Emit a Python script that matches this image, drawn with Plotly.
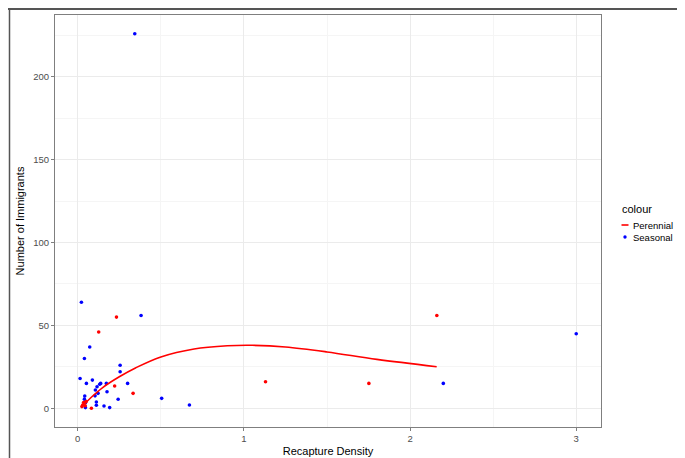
import plotly.graph_objects as go

# Seasonal points (blue)
seasonal_x = [0.343, 0.022, 0.381, 0.072, 0.040, 0.255, 0.255, 0.014, 0.052, 0.088,
              0.132, 0.172, 0.116, 0.300, 0.176, 0.122, 0.106, 0.042, 0.046, 0.243,
              0.505, 0.672, 0.112, 0.112, 0.158, 0.192, 0.046, 0.138, 2.200, 3.000,
              0.104, 0.040]
seasonal_y = [226, 64, 56, 37, 30, 26, 22, 18, 15, 17,
              14.5, 15, 13, 15, 10, 9, 11, 7.4, 3.4, 5.4,
              6, 2, 3.8, 1.8, 1.4, 0.4, 0.4, 15, 15, 45,
              7.5, 5.5]

# Perennial points (red)
perennial_x = [0.233, 0.126, 0.222, 0.333, 0.082, 0.030, 0.035, 0.025, 0.045, 0.050,
               1.130, 1.752, 2.161]
perennial_y = [55, 46, 13.4, 9, 0, 2, 3.5, 1, 1.5, 4,
               16, 15, 56]

# Smoothed trend for Perennial
smooth_x = [0.03, 0.08, 0.15, 0.25, 0.35, 0.50, 0.70, 0.90, 1.05, 1.25, 1.50, 1.80, 2.16]
smooth_y = [1.5, 6.5, 12.5, 19.0, 24.5, 31.0, 35.8, 37.7, 38.0, 37.0, 34.0, 29.5, 25.1]

x_ticks = [0, 1, 2, 3]
y_ticks = [0, 50, 100, 150, 200]
legend_title = "colour"
legend_labels = ["Perennial", "Seasonal"]

RED = "#FF0000"
BLUE = "#0000FF"
FONT = "Liberation Sans, Arial, sans-serif"

fig = go.Figure()
fig.add_trace(go.Scatter(x=seasonal_x, y=seasonal_y, mode="markers",
                         marker=dict(color=BLUE, size=3.6), name="Seasonal"))
fig.add_trace(go.Scatter(x=perennial_x, y=perennial_y, mode="markers",
                         marker=dict(color=RED, size=3.6), name="Perennial"))
fig.add_trace(go.Scatter(x=smooth_x, y=smooth_y, mode="lines", line_shape="spline",
                         line=dict(color=RED, width=1.6), name="Perennial"))

# page has an 8px body margin, so figure is offset by 8px
OFF = 8
W, H = 685, 450
# panel edges in window pixels
PL, PR, PT, PB = 55, 601, 15, 427
L, R, T, B = PL - OFF, W - (PR - OFF), PT - OFF, H - (PB - OFF)
pw, ph = W - L - R, H - T - B

def px(xw):
    return (xw - OFF - L) / pw

def py(yw):
    return (H - B - (yw - OFF)) / ph

frame = "#555555"
shapes = [
    dict(type="line", xref="paper", yref="paper", x0=px(8), x1=px(700), y0=py(9), y1=py(9),
         line=dict(color=frame, width=2)),
    dict(type="line", xref="paper", yref="paper", x0=px(9.5), x1=px(9.5), y0=py(9), y1=py(470),
         line=dict(color=frame, width=1.5)),
    # legend keys
    dict(type="line", xref="paper", yref="paper", x0=px(621.5), x1=px(628.5),
         y0=py(225), y1=py(225), line=dict(color=RED, width=1.6)),
    dict(type="circle", xref="paper", yref="paper", x0=px(623.3), x1=px(626.7),
         y0=py(235.3), y1=py(238.7), fillcolor=BLUE, line=dict(width=0)),
]

annotations = [
    dict(text=legend_title, xref="paper", yref="paper", x=px(620), y=py(209),
         xanchor="left", yanchor="middle", showarrow=False,
         font=dict(family=FONT, size=11, color="black")),
    dict(text=legend_labels[0], xref="paper", yref="paper", x=px(631), y=py(225),
         xanchor="left", yanchor="middle", showarrow=False,
         font=dict(family=FONT, size=9.5, color="black")),
    dict(text=legend_labels[1], xref="paper", yref="paper", x=px(631), y=py(237),
         xanchor="left", yanchor="middle", showarrow=False,
         font=dict(family=FONT, size=9.5, color="black")),
]

axis_common = dict(
    showgrid=True, gridcolor="#EBEBEB", gridwidth=1,
    zeroline=False, showline=True, mirror=True, linecolor="#7F7F7F", linewidth=1,
    ticks="outside", ticklen=3, tickcolor="#7F7F7F", tickwidth=1,
    tickfont=dict(family=FONT, size=9.5, color="#4D4D4D"),
)

fig.update_layout(
    width=W, height=H,
    margin=dict(l=L, r=R, t=T, b=B, autoexpand=False),
    paper_bgcolor="white", plot_bgcolor="white",
    font=dict(family=FONT, color="black"),
    showlegend=False,
    shapes=shapes,
    annotations=annotations,
)
fig.update_xaxes(**axis_common, range=[-0.137, 3.149], tickvals=x_ticks,
                 minor=dict(dtick=0.5, showgrid=True, gridcolor="#F5F5F5", ticks=""),
                 title=dict(text="Recapture Density", standoff=3,
                            font=dict(size=11, color="black")))
fig.update_yaxes(**axis_common, range=[-11.3, 237.3], tickvals=y_ticks,
                 minor=dict(dtick=25, showgrid=True, gridcolor="#F5F5F5", ticks=""),
                 title=dict(text="Number of Immigrants", standoff=6,
                            font=dict(size=11, color="black")))

fig.write_html("out.html")
